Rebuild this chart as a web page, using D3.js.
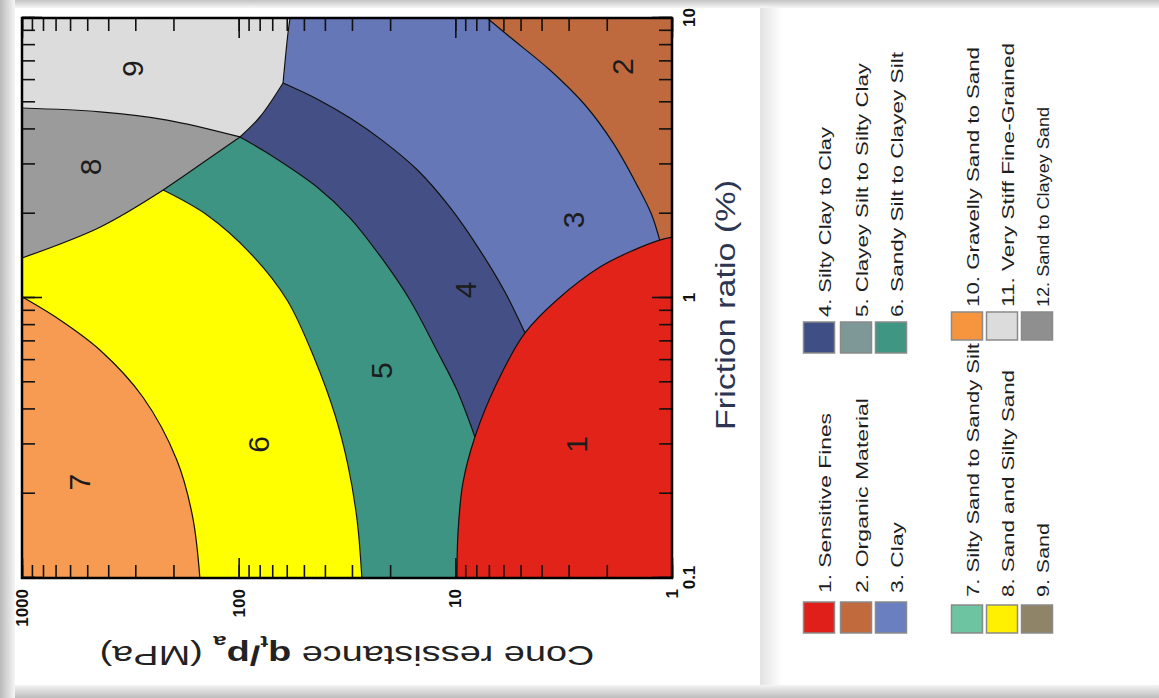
<!DOCTYPE html>
<html>
<head>
<meta charset="UTF-8">
<title>Soil behaviour type chart</title>
<script src="https://cdn.jsdelivr.net/npm/d3@7"></script>
<style>
  body { margin: 0; background: #fff; }
  svg { font-family: Arial, "Liberation Sans", sans-serif; }
</style>
</head>
<body>
<svg id="chart" width="1159" height="698"></svg>
<script>
// axis values
const rfTicks = [0.1, 1, 10];
const qTicks = [1, 10, 100, 1000];

// zone boundaries, points are [Rf (%), qt/pa (MPa)]
const edgeZone1 = [[0.1, 9.83], [0.145, 9.72], [0.218, 9.23], [0.319, 8.12], [0.497, 6.43], [0.75, 4.77], [0.984, 3.40], [1.29, 2.15], [1.48, 1.51], [1.61, 1.14], [1.65, 1.0]];
const edge2to3 = [[10, 7.14], [8.55, 5.60], [6.52, 3.66], [4.89, 2.52], [3.58, 1.87], [2.53, 1.45], [1.98, 1.24], [1.61, 1.14]];
const edge3to4 = [[5.86, 62.4], [5.14, 43.5], [4.39, 30.6], [3.64, 21.6], [2.87, 15.0], [2.11, 10.6], [1.48, 7.70], [1.05, 5.90], [0.75, 4.77]];
const edge4to5 = [[3.76, 98.6], [3.30, 74.0], [2.49, 43.5], [1.93, 30.6], [1.37, 21.6], [0.984, 16.2], [0.652, 12.2], [0.469, 9.83], [0.319, 8.12]];
const edge5to6 = [[2.43, 223], [1.98, 140], [1.45, 88.7], [0.984, 59.8], [0.601, 44.4], [0.382, 35.9], [0.253, 31.3], [0.161, 28.4], [0.1, 27.0]];
const edge6to7 = [[1.01, 1000], [0.835, 668], [0.652, 437], [0.443, 277], [0.264, 193], [0.165, 163], [0.1, 151]];
const edge8to9 = [[4.77, 1000], [4.62, 437], [4.32, 214], [3.76, 98.6]];
const edge6to8 = [[1.39, 1000], [1.79, 437], [2.43, 223]];
const edge5to8 = [[2.43, 223], [2.99, 151], [3.76, 98.6]];
const edge4to9 = [[3.76, 98.6], [4.43, 79.8], [5.86, 62.4]];
const edge3to9 = [[5.86, 62.4], [8.83, 59.2], [10, 57.9]];

// zone numbers and where they sit
const zoneIds = [1, 2, 3, 4, 5, 6, 7, 8, 9];
const zoneLabelRf = [0.3, 6.7, 1.9, 1.07, 0.55, 0.3, 0.22, 2.94, 6.6];
const zoneLabelQ = [2.75, 1.7, 2.85, 9.0, 22, 81, 540, 485, 308];
const zoneColors = ["#e2231a", "#bf6a3e", "#6677b8", "#444f85", "#3d9482", "#ffff00", "#f79b52", "#9b9b9b", "#dcdcdc"];

// legend
const legendNames = ["1. Sensitive Fines", "2. Organic Material", "3. Clay",
  "4. Silty Clay to Clay", "5. Clayey Silt to Silty Clay", "6. Sandy Silt to Clayey Silt",
  "7. Silty Sand to Sandy Silt", "8. Sand and Silty Sand", "9. Sand",
  "10. Gravelly Sand to Sand", "11. Very Stiff Fine-Grained", "12. Sand to Clayey Sand"];
const legendColors = ["#e01f1a", "#c06a3e", "#6a7fbf", "#3f4e85", "#7e9898", "#3f9683",
  "#6cc4a0", "#ffef00", "#8f8468", "#f7943e", "#dcdcdc", "#8f8f8f"];
const legendTextLen = [180, 195, 71, 190, 254, 265, 254, 227, 74, 260, 264, 200];

const svg = d3.select("#chart");

// soft frame around the two panels
const defs = svg.append("defs");
function grad(id, x1, y1, x2, y2, c1, c2) {
  const g = defs.append("linearGradient").attr("id", id)
    .attr("x1", x1).attr("y1", y1).attr("x2", x2).attr("y2", y2);
  g.append("stop").attr("offset", 0).attr("stop-color", c1);
  g.append("stop").attr("offset", 1).attr("stop-color", c2);
}
grad("gl", 0, 0, 1, 0, "#b9b9b9", "#f6f6f6");
grad("gt", 0, 0, 0, 1, "#c4c4c4", "#f6f6f6");
grad("gb", 0, 0, 0, 1, "#f4f4f4", "#bdbdbd");
grad("gl2", 0, 0, 1, 0, "#e2e2e2", "#ffffff");
svg.append("rect").attr("x", 0).attr("y", 0).attr("width", 1159).attr("height", 698).attr("fill", "#fff");
svg.append("rect").attr("x", 760).attr("y", 0).attr("width", 22).attr("height", 698).attr("fill", "url(#gl2)");
svg.append("rect").attr("x", 0).attr("y", 0).attr("width", 1159).attr("height", 8).attr("fill", "url(#gt)");
svg.append("rect").attr("x", 0).attr("y", 685).attr("width", 1159).attr("height", 13).attr("fill", "url(#gb)");
svg.append("rect").attr("x", 0).attr("y", 0).attr("width", 15).attr("height", 698).attr("fill", "url(#gl)");

// the chart is drawn upright and then turned a quarter turn anticlockwise
const W = 560, H = 650;
const x = d3.scaleLog().domain([0.1, 10]).range([0, W]);
const y = d3.scaleLog().domain([1, 1000]).range([H, 0]);

const plot = svg.append("g").attr("transform", "translate(22,578) rotate(-90)");

const curve = d3.line().x(d => x(d[0])).y(d => y(d[1])).curve(d3.curveCatmullRom.alpha(0.5));
const rev = a => a.slice().reverse();
function zonePath(parts) {
  return parts.map((p, i) => {
    let s = p.length === 1 ? `M${x(p[0][0])},${y(p[0][1])}` : curve(p);
    return i ? s.replace(/^M/, "L") : s;
  }).join("") + "Z";
}

const zoneShapes = [
  { id: 2, parts: [[[0.1, 1000]], [[10, 1000]], [[10, 1]], [[0.1, 1]]] },
  { id: 3, parts: [edge2to3, [[0.1, 1]], rev(edge3to4), edge3to9] },
  { id: 4, parts: [edge3to4, [[0.1, 1]], rev(edge4to5), edge4to9] },
  { id: 5, parts: [edge5to8, edge4to5, [[0.1, 1]], rev(edge5to6)] },
  { id: 6, parts: [edge6to8, edge5to6, [[0.1, 1000]]] },
  { id: 7, parts: [edge6to7, [[0.1, 1000]]] },
  { id: 8, parts: [edge8to9, rev(edge5to8), rev(edge6to8)] },
  { id: 9, parts: [[[10, 1000]], [[10, 57.9]], rev(edge3to9), rev(edge4to9), rev(edge8to9)] },
  { id: 1, parts: [edgeZone1, [[0.1, 1]]] }
];

plot.selectAll("path.zone")
  .data(zoneShapes)
  .join("path")
  .attr("class", "zone")
  .attr("d", d => zonePath(d.parts))
  .attr("fill", d => zoneColors[d.id - 1])
  .attr("stroke", d => zoneColors[d.id - 1])
  .attr("stroke-width", 0.5);

const edges = [edgeZone1, edge2to3, edge3to4, edge4to5, edge5to6, edge6to7, edge8to9, edge6to8, edge5to8, edge4to9, edge3to9];
plot.selectAll("path.edge")
  .data(edges)
  .join("path")
  .attr("class", "edge")
  .attr("d", curve)
  .attr("fill", "none")
  .attr("stroke", "#111")
  .attr("stroke-width", 1.2);

// zone numbers
plot.selectAll("text.zone-num")
  .data(zoneIds)
  .join("text")
  .attr("class", "zone-num")
  .attr("x", (d, i) => x(zoneLabelRf[i]))
  .attr("y", (d, i) => y(zoneLabelQ[i]))
  .attr("text-anchor", "middle")
  .attr("dominant-baseline", "central")
  .attr("font-size", 30)
  .attr("fill", "#1c1c1c")
  .text(d => d);

// ticks on all four sides, pointing inwards
function ticks(axis, tr, minor, labels) {
  const g = plot.append("g").attr("transform", tr)
    .call(axis.tickValues(minor ? axis.scale().ticks() : axis.scale() === x ? rfTicks : qTicks)
      .tickSizeInner(minor ? -13 : -20).tickSizeOuter(0).tickPadding(labels ? 11 : 0)
      .tickFormat(labels ? (d => d) : ""));
  g.attr("font-size", null).attr("font-family", null);
  g.select(".domain").remove();
  g.selectAll(".tick line").attr("stroke", "#111").attr("stroke-width", 1.6);
  g.selectAll("text")
    .style("font-size", "17px").style("font-weight", "bold")
    .style("font-family", "Arial, 'Liberation Sans', sans-serif").attr("fill", "#111");
}
ticks(d3.axisLeft(y), "translate(0,0)", true, false);
ticks(d3.axisRight(y), `translate(${W},0)`, true, false);
ticks(d3.axisTop(x), "translate(0,0)", true, false);
ticks(d3.axisBottom(x), `translate(0,${H})`, true, false);
ticks(d3.axisLeft(y), "translate(0,0)", false, true);
ticks(d3.axisRight(y), `translate(${W},0)`, false, false);
ticks(d3.axisTop(x), "translate(0,0)", false, false);
ticks(d3.axisBottom(x), `translate(0,${H})`, false, true);

plot.append("rect")
  .attr("width", W).attr("height", H)
  .attr("fill", "none").attr("stroke", "#000").attr("stroke-width", 2.5);

// axis titles
plot.append("text")
  .attr("x", 273).attr("y", 713)
  .attr("text-anchor", "middle")
  .attr("font-size", 27)
  .attr("fill", "#2c3652")
  .attr("textLength", 250).attr("lengthAdjust", "spacingAndGlyphs")
  .text("Friction ratio (%)");

const yTitle = plot.append("text")
  .attr("text-anchor", "middle")
  .attr("font-size", 27)
  .attr("fill", "#222");
yTitle.append("tspan").text("Cone ressistance ");
yTitle.append("tspan").attr("font-weight", "bold").text("q");
yTitle.append("tspan").attr("font-weight", "bold").attr("font-size", 17).attr("baseline-shift", "sub").text("t");
yTitle.append("tspan").attr("font-weight", "bold").text("/p");
yTitle.append("tspan").attr("font-weight", "bold").attr("font-size", 17).attr("baseline-shift", "sub").text("a");
yTitle.append("tspan").text(" (MPa)");
const natural = yTitle.node().getComputedTextLength();
yTitle.attr("transform", `translate(-68,325) rotate(-90) scale(${495 / natural},1)`);

// legend, laid out upright and turned the same way
const legend = svg.append("g").attr("transform", "translate(0,698) rotate(-90)");
const rowV = [819, 856, 891, 819, 856, 891, 967, 1002, 1037, 967, 1002, 1037];
const boxU = [65, 65, 65, 345, 345, 345, 65, 65, 65, 358, 358, 358];
const boxW = [31, 31, 31, 31, 31, 31, 28, 28, 28, 28, 28, 28];
const textU = [105, 105, 105, 381, 381, 381, 101, 101, 101, 391, 391, 391];

const items = legend.selectAll("g.item")
  .data(legendNames)
  .join("g")
  .attr("class", "item");
items.append("rect")
  .attr("x", (d, i) => boxU[i])
  .attr("y", (d, i) => rowV[i] - 15.5)
  .attr("width", (d, i) => boxW[i])
  .attr("height", 31)
  .attr("fill", (d, i) => legendColors[i])
  .attr("stroke", "#8a8a8a")
  .attr("stroke-width", 1.5);
items.append("text")
  .attr("x", (d, i) => textU[i])
  .attr("y", (d, i) => rowV[i] + 12)
  .attr("font-size", 17)
  .attr("fill", "#1e1e1e")
  .attr("textLength", (d, i) => legendTextLen[i])
  .attr("lengthAdjust", "spacingAndGlyphs")
  .text(d => d);
</script>
</body>
</html>
